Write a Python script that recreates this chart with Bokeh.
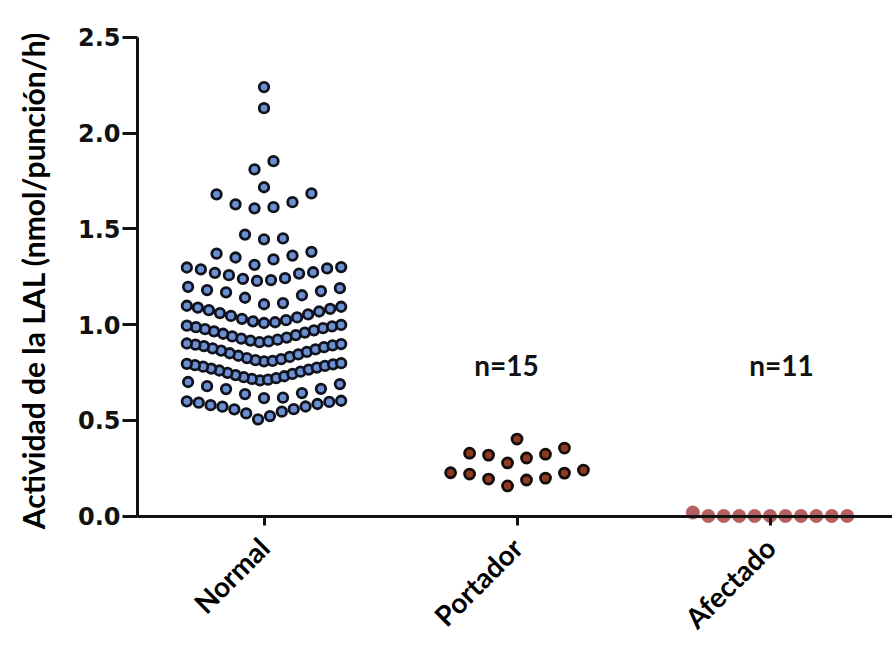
import math
from bokeh.plotting import figure
from bokeh.models import FixedTicker, Range1d, LinearAxis
from bokeh.core.properties import value
from bokeh.embed import file_html
from bokeh.resources import INLINE

# ---------------- data ----------------
categories = ["Normal", "Portador", "Afectado"]

normal = [
    0.505, 0.522, 0.536, 0.545, 0.557, 0.558, 0.571, 0.572, 0.579, 0.585, 0.592, 0.596, 0.599, 0.602,
    0.616, 0.618, 0.637, 0.642, 0.663, 0.664, 0.678, 0.689, 0.700,
    0.708, 0.712, 0.716, 0.720, 0.725, 0.730, 0.736, 0.742, 0.748, 0.754,
    0.760, 0.765, 0.770, 0.775, 0.780, 0.784, 0.788, 0.792, 0.795, 0.798,
    0.808, 0.810, 0.814, 0.819, 0.825, 0.831, 0.837, 0.844, 0.850, 0.857,
    0.864, 0.870, 0.876, 0.882, 0.887, 0.891, 0.895, 0.898, 0.901,
    0.908, 0.912, 0.916, 0.921, 0.926, 0.932, 0.938, 0.945, 0.952,
    0.958, 0.964, 0.970, 0.976, 0.981, 0.986, 0.990, 0.994, 0.998,
    1.008, 1.012, 1.017, 1.023, 1.030, 1.037, 1.045, 1.053, 1.060, 1.068, 1.075, 1.082, 1.088, 1.093, 1.098,
    1.106, 1.112, 1.140, 1.153, 1.168, 1.175, 1.180, 1.190, 1.197,
    1.228, 1.232, 1.238, 1.242, 1.258, 1.266, 1.270, 1.273, 1.288, 1.293, 1.298, 1.300,
    1.312, 1.340, 1.350, 1.360, 1.370, 1.380,
    1.445, 1.450, 1.470,
    1.607, 1.613, 1.628, 1.639, 1.680, 1.685,
    1.717, 1.810, 1.853, 2.130, 2.240,
]

portador = [
    0.157, 0.188, 0.193, 0.198, 0.219, 0.224, 0.226, 0.240,
    0.277, 0.303, 0.318, 0.323, 0.328, 0.355,
    0.402,
]

afectado = [0.018, 0.0, 0.0, 0.0, 0.0, 0.0, 0.0, 0.0, 0.0, 0.0, 0.0]

n_labels = ["n=15", "n=11"]
n_label_x = [1.958, 3.045]
n_label_y = [0.79, 0.79]

y_ticks = [0.0, 0.5, 1.0, 1.5, 2.0, 2.5]
y_tick_labels = ["0.0", "0.5", "1.0", "1.5", "2.0", "2.5"]

# ---------------- swarm layout (Prism-like rows) ----------------
BIN = 0.1      # value band per row
STEP = 0.075   # default horizontal spacing (category units)
MAXW = 0.610   # maximum row width (category units)


def swarm(vals, center):
    vals = sorted(vals)
    vmin = vals[0]
    rows = {}
    for v in vals:
        k = int(math.floor((v - vmin) / BIN + 1e-9))
        rows.setdefault(k, []).append(v)
    xs, ys = [], []
    for k in sorted(rows):
        rv = rows[k]
        n = len(rv)
        step = STEP if n < 2 else min(STEP, MAXW / (n - 1))
        slots = []
        if n % 2:
            slots.append(0.0)
            i = 1
            while len(slots) < n:
                slots.append(i)
                if len(slots) < n:
                    slots.append(-i)
                i += 1
        else:
            i = 0.5
            while len(slots) < n:
                slots += [-i, i]
                i += 1
        for v, s in zip(rv, slots):
            xs.append(center + s * step)
            ys.append(v)
    return xs, ys


nx, ny = swarm(normal, 1)
px, py = swarm(portador, 2)
ax, ay = swarm(afectado, 3)

# ---------------- figure ----------------
p = figure(
    width=892, height=654,
    x_range=Range1d(0.5, 3.484), y_range=Range1d(-0.06, 2.52),
    output_backend="svg", toolbar_location=None,
    min_border_left=137, min_border_right=0, min_border_top=33, min_border_bottom=127,
)
p.outline_line_color = None
p.xgrid.visible = False
p.ygrid.visible = False
p.background_fill_color = "white"
p.border_fill_color = "white"

p.scatter(nx, ny, size=9.5, fill_color="#6b8fd1", line_color="#10131d", line_width=2.8)
p.scatter(px, py, size=10, fill_color="#8e3b22", line_color="#140c0a", line_width=2.8)
p.scatter(ax, ay, size=13.5, fill_color="#b5605f", line_color="#b5605f", line_width=0.5)

p.text(x=n_label_x, y=n_label_y, text=n_labels, text_align="center", text_baseline="middle",
       text_font=value("Lato"), text_font_style="bold", text_font_size="28px", text_color="#111111")

# y axis
ya = p.yaxis[0]
ya.ticker = FixedTicker(ticks=y_ticks)
ya.major_label_overrides = {t: l for t, l in zip(y_ticks, y_tick_labels)}
ya.bounds = (0, 2.5)
ya.axis_line_width = 3
ya.axis_line_color = "#111111"
ya.major_tick_line_width = 3
ya.major_tick_line_color = "#111111"
ya.major_tick_out = 15
ya.major_tick_in = 0
ya.minor_tick_line_color = None
ya.major_label_standoff = 2
ya.major_label_text_font = "DejaVu Sans"
ya.major_label_text_font_style = "bold"
ya.major_label_text_font_size = "24px"
ya.major_label_text_color = "#111111"
ya.axis_label = "Actividad de la LAL (nmol/punción/h)"
ya.axis_label_text_font = "Lato"
ya.axis_label_text_font_style = "bold"
ya.axis_label_text_font_size = "30px"
ya.axis_label_text_color = "#000000"
ya.axis_label_standoff = 24

# x axis: line + ticks drawn at y = 0
xa = p.xaxis[0]
xa.ticker = FixedTicker(ticks=[1, 2, 3])
xa.major_label_overrides = {1: "", 2: "", 3: ""}
xa.major_label_text_font_size = "0px"
xa.major_label_standoff = 0
xa.fixed_location = 0
xa.axis_line_width = 3
xa.axis_line_color = "#111111"
xa.major_tick_line_width = 3
xa.major_tick_line_color = "#111111"
xa.major_tick_out = 9
xa.major_tick_in = 0
xa.minor_tick_line_color = None

# x axis: category labels only
xl = LinearAxis(
    ticker=FixedTicker(ticks=[1, 2, 3]),
    major_label_overrides={i + 1: c for i, c in enumerate(categories)},
    axis_line_color=None, major_tick_line_color=None, minor_tick_line_color=None,
    major_tick_out=0, major_tick_in=0,
    major_label_orientation=math.pi / 4,
    major_label_standoff=15,
    major_label_text_font="Lato",
    major_label_text_font_style="bold",
    major_label_text_font_size="28px",
    major_label_text_color="#000000",
)
p.add_layout(xl, "below")

open("out.html", "w").write(file_html(p, INLINE))
